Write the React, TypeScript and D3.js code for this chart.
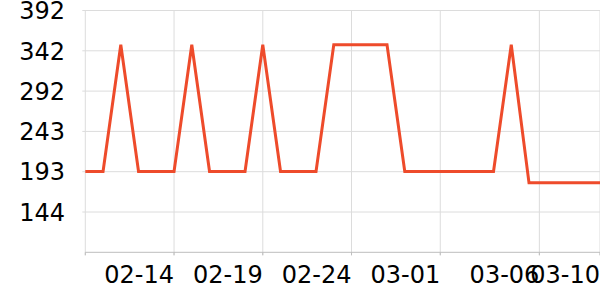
import React from "react";
import * as d3 from "d3";

const DATES = [
  "2023-02-09", "2023-02-10", "2023-02-11", "2023-02-12", "2023-02-13",
  "2023-02-14", "2023-02-15", "2023-02-16", "2023-02-17", "2023-02-18",
  "2023-02-19", "2023-02-20", "2023-02-21", "2023-02-22", "2023-02-23",
  "2023-02-24", "2023-02-25", "2023-02-26", "2023-02-27", "2023-02-28",
  "2023-03-01", "2023-03-02", "2023-03-03", "2023-03-04", "2023-03-05",
  "2023-03-06", "2023-03-07", "2023-03-08", "2023-03-09", "2023-03-10",
];
const VALUES = [
  194, 194, 350, 194, 194,
  194, 350, 194, 194, 194,
  350, 194, 194, 194, 350,
  350, 350, 350, 194, 194,
  194, 194, 194, 194, 350,
  180, 180, 180, 180, 180,
];
const Y_TICKS = [144.1, 193.7, 243.3, 292.9, 342.5, 392.1];
const Y_DOMAIN = [94.5, 392.1];
const X_TICKS = [
  "2023-02-09", "2023-02-14", "2023-02-19", "2023-02-24",
  "2023-03-01", "2023-03-06T14:00", "2023-03-10",
];
const X_LABELED = [false, true, true, true, true, true, true];

const W = 600;
const H = 300;
const M = { left: 85.3, right: 0, top: 10.5, bottom: 47.7 };
const FONT = "DejaVu Sans, sans-serif";

export default function App() {
  const parse = (s: string) => new Date(s.length > 10 ? s : s + "T00:00");
  const data = DATES.map((d, i) => ({ d: parse(d), v: VALUES[i] }));
  const x = d3
    .scaleTime()
    .domain([parse(DATES[0]), parse(DATES[DATES.length - 1])])
    .range([M.left, W - M.right]);
  const y = d3.scaleLinear().domain(Y_DOMAIN).range([H - M.bottom, M.top]);
  const line = d3
    .line<{ d: Date; v: number }>()
    .x((p) => x(p.d))
    .y((p) => y(p.v));
  const fmt = d3.timeFormat("%m-%d");
  const y0 = H - M.bottom;

  return (
    <svg
      width={W}
      height={H}
      style={{ position: "absolute", left: 0, top: 0, background: "#fff" }}
      fontFamily={FONT}
    >
      {Y_TICKS.map((t, i) => (
        <line
          key={"yg" + i}
          x1={M.left - 3}
          x2={W - M.right}
          y1={y(t)}
          y2={y(t)}
          stroke="#dcdcdc"
          strokeWidth={1}
        />
      ))}
      {X_TICKS.map((t, i) => (
        <line
          key={"xg" + i}
          x1={x(parse(t))}
          x2={x(parse(t))}
          y1={M.top}
          y2={y0 + 3}
          stroke="#dcdcdc"
          strokeWidth={1}
        />
      ))}
      <line x1={M.left} x2={W - M.right} y1={y0} y2={y0} stroke="#bdbdbd" strokeWidth={1} />
      {X_TICKS.map((t, i) => (
        <line
          key={"xt" + i}
          x1={x(parse(t))}
          x2={x(parse(t))}
          y1={y0}
          y2={y0 + 3}
          stroke="#bdbdbd"
          strokeWidth={1}
        />
      ))}
      {Y_TICKS.map((t, i) => (
        <text
          key={"yl" + i}
          x={65}
          y={y(t) + 8.7}
          textAnchor="end"
          fontSize={24}
          fill="#000"
        >
          {Math.floor(t)}
        </text>
      ))}
      {X_TICKS.map((t, i) =>
        X_LABELED[i] ? (
          <text
            key={"xl" + i}
            x={x(parse(t))}
            y={282.7}
            textAnchor="end"
            fontSize={24}
            fill="#000"
          >
            {fmt(parse(t))}
          </text>
        ) : null
      )}
      <path
        d={line(data) || ""}
        fill="none"
        stroke="#ee4b2b"
        strokeWidth={3}
        strokeLinejoin="miter"
      />
    </svg>
  );
}
